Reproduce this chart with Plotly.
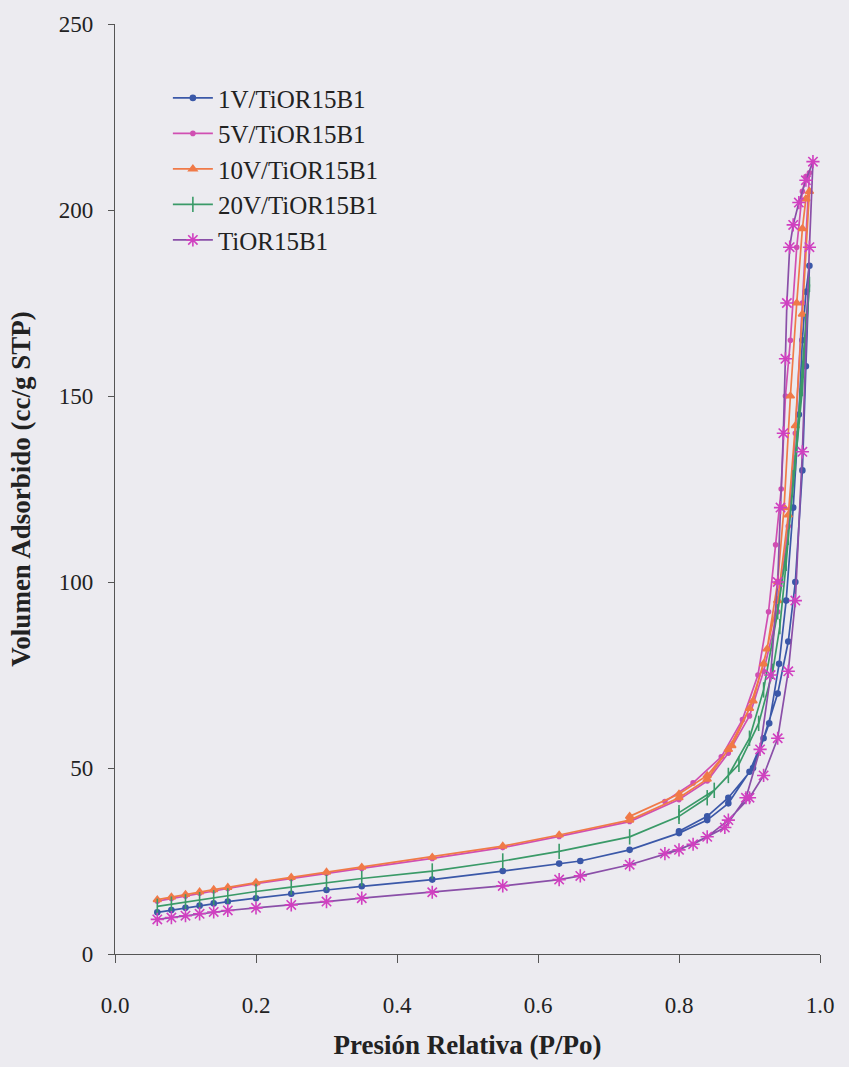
import plotly.graph_objects as go

# Relative pressure (P/Po) and adsorbed volume (cc/g STP); each isotherm is the
# adsorption branch followed by the desorption branch.
v1_ads_x = [0.06, 0.08, 0.10, 0.12, 0.14, 0.16, 0.20, 0.25, 0.30, 0.35, 0.45, 0.55, 0.63, 0.66, 0.73, 0.80, 0.84, 0.87, 0.90, 0.92, 0.94, 0.955, 0.965, 0.975, 0.98, 0.985]
v1_ads_y = [11.2, 11.8, 12.4, 13.0, 13.6, 14.1, 15.0, 16.2, 17.2, 18.2, 20.0, 22.3, 24.3, 25.0, 28.0, 32.5, 36.0, 40.5, 49.0, 58.0, 70.0, 84.0, 100.0, 130.0, 158.0, 185.0]
v1_des_x = [0.98, 0.975, 0.97, 0.962, 0.952, 0.942, 0.928, 0.905, 0.87, 0.84, 0.80]
v1_des_y = [178.0, 165.0, 145.0, 120.0, 95.0, 78.0, 62.0, 50.0, 42.0, 37.0, 33.0]

v5_ads_x = [0.06, 0.08, 0.10, 0.12, 0.14, 0.16, 0.20, 0.25, 0.30, 0.35, 0.45, 0.55, 0.63, 0.73, 0.80, 0.84, 0.87, 0.90, 0.92, 0.94, 0.955, 0.965, 0.975, 0.985]
v5_ads_y = [14.2, 14.9, 15.6, 16.3, 17.0, 17.6, 18.9, 20.3, 21.7, 23.0, 25.7, 28.6, 31.6, 35.6, 41.5, 46.5, 54.0, 64.0, 76.0, 92.0, 115.0, 140.0, 175.0, 210.0]
v5_des_x = [0.98, 0.975, 0.967, 0.958, 0.951, 0.945, 0.937, 0.927, 0.912, 0.89, 0.86, 0.82, 0.78]
v5_des_y = [209.0, 205.0, 190.0, 165.0, 150.0, 125.0, 110.0, 92.0, 75.0, 63.0, 53.0, 46.0, 41.0]

v10_ads_x = [0.06, 0.08, 0.10, 0.12, 0.14, 0.16, 0.20, 0.25, 0.30, 0.35, 0.45, 0.55, 0.63, 0.73, 0.80, 0.84, 0.87, 0.90, 0.92, 0.94, 0.955, 0.965, 0.975, 0.985]
v10_ads_y = [14.6, 15.3, 16.0, 16.7, 17.3, 17.9, 19.2, 20.6, 22.0, 23.3, 26.0, 29.0, 32.0, 36.0, 42.0, 47.0, 55.0, 66.0, 78.0, 95.0, 118.0, 142.0, 172.0, 205.0]
v10_des_x = [0.98, 0.975, 0.967, 0.958, 0.949, 0.94, 0.925, 0.905, 0.875, 0.84, 0.80, 0.73]
v10_des_y = [203.0, 195.0, 175.0, 150.0, 120.0, 100.0, 82.0, 68.0, 56.0, 48.0, 43.0, 37.0]

v20_ads_x = [0.06, 0.08, 0.10, 0.12, 0.14, 0.16, 0.20, 0.25, 0.30, 0.35, 0.45, 0.55, 0.63, 0.73, 0.80, 0.84, 0.87, 0.90, 0.92, 0.94, 0.955, 0.965, 0.975, 0.985]
v20_ads_y = [12.8, 13.4, 14.0, 14.6, 15.1, 15.6, 16.8, 18.0, 19.2, 20.3, 22.3, 25.0, 27.6, 31.5, 37.0, 42.0, 48.0, 58.0, 71.0, 92.0, 112.0, 132.0, 152.0, 180.0]
v20_des_x = [0.98, 0.972, 0.962, 0.952, 0.943, 0.933, 0.913, 0.885, 0.85, 0.80]
v20_des_y = [170.0, 150.0, 128.0, 105.0, 88.0, 76.0, 62.0, 51.0, 44.0, 38.0]

ti_ads_x = [0.06, 0.08, 0.10, 0.12, 0.14, 0.16, 0.20, 0.25, 0.30, 0.35, 0.45, 0.55, 0.63, 0.66, 0.73, 0.80, 0.84, 0.87, 0.90, 0.92, 0.94, 0.955, 0.965, 0.975, 0.985, 0.99]
ti_ads_y = [9.3, 9.8, 10.3, 10.8, 11.3, 11.7, 12.4, 13.2, 14.1, 15.0, 16.6, 18.3, 20.0, 21.0, 24.0, 28.0, 31.5, 36.0, 42.0, 48.0, 58.0, 76.0, 95.0, 135.0, 190.0, 213.0]
ti_des_x = [0.98, 0.97, 0.962, 0.957, 0.953, 0.951, 0.948, 0.944, 0.94, 0.93, 0.915, 0.895, 0.865, 0.82, 0.78]
ti_des_y = [208.0, 202.0, 196.0, 190.0, 175.0, 160.0, 140.0, 120.0, 100.0, 75.0, 55.0, 42.0, 34.0, 29.5, 27.0]

series = [
    ("1V/TiOR15B1", v1_ads_x + v1_des_x, v1_ads_y + v1_des_y, "#3b58a8", "#3b58a8", "circle", 5),
    ("5V/TiOR15B1", v5_ads_x + v5_des_x, v5_ads_y + v5_des_y, "#d04fb2", "#d04fb2", "circle", 4),
    ("10V/TiOR15B1", v10_ads_x + v10_des_x, v10_ads_y + v10_des_y, "#f07a48", "#f07a48", "triangle-up", 7),
    ("20V/TiOR15B1", v20_ads_x + v20_des_x, v20_ads_y + v20_des_y, "#3a9a68", "#3a9a68", "line-ns", 11),
    ("TiOR15B1", ti_ads_x + ti_des_x, ti_ads_y + ti_des_y, "#8a4fa8", "#d040c0", "asterisk", 11),
]

fig = go.Figure()
for name, xs, ys, line_c, mark_c, sym, size in series:
    fig.add_trace(go.Scatter(
        x=xs, y=ys, name=name, mode="lines+markers",
        line=dict(color=line_c, width=1.7),
        marker=dict(symbol=sym, size=size, color=mark_c,
                    line=dict(color=mark_c, width=1.6)),
    ))

bg = "#ecebf0"
serif = "Liberation Serif"
fig.update_layout(
    width=849, height=1067,
    margin=dict(l=115, r=29, t=15, b=112),
    paper_bgcolor=bg, plot_bgcolor=bg,
    font=dict(family=serif, size=22, color="#222222"),
    showlegend=True,
    legend=dict(x=0.075, y=0.945, xanchor="left", yanchor="top",
                bgcolor="rgba(0,0,0,0)", font=dict(family=serif, size=25),
                tracegroupgap=0, itemwidth=40),
)
fig.update_xaxes(
    range=[0, 1.0], tickvals=[0, 0.2, 0.4, 0.6, 0.8, 1.0], tickformat=".1f",
    tickfont=dict(family=serif, size=23),
    showgrid=False, zeroline=False, showline=True, linecolor="#555555", linewidth=1.2,
    ticks="outside", ticklen=8, tickcolor="#555555", ticklabelstandoff=22,
    title=dict(text="<b>Presión Relativa (P/Po)</b>", font=dict(family=serif, size=27), standoff=18),
)
fig.update_yaxes(
    range=[0, 250], dtick=50,
    tickfont=dict(family=serif, size=23),
    showgrid=False, zeroline=False, showline=True, linecolor="#555555", linewidth=1.2,
    ticks="outside", ticklen=6, tickcolor="#555555", ticklabelstandoff=10,
    title=dict(text="<b>Volumen Adsorbido (cc/g STP)</b>", font=dict(family=serif, size=27), standoff=20),
)

fig.write_html("out.html")
